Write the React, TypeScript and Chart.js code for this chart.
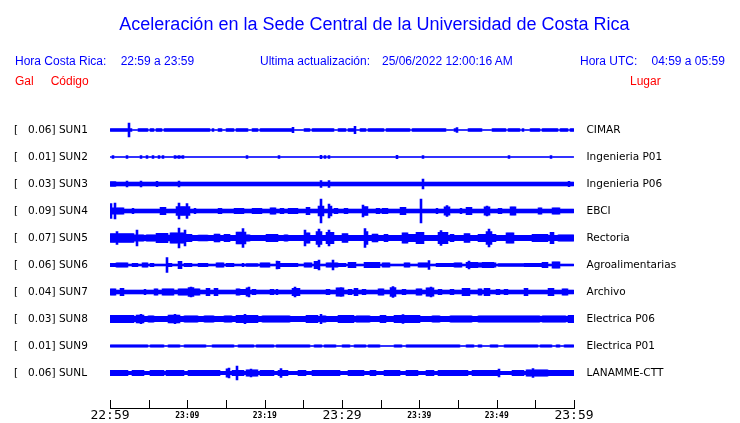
import React, { useEffect, useRef } from 'react';
import { Chart, registerables } from 'chart.js';

Chart.register(...registerables);

// ---------- text ----------
const TITLE = 'Aceleración en la Sede Central de la Universidad de Costa Rica';
const HORA_CR_LABEL = 'Hora Costa Rica:';
const HORA_CR_RANGE = '22:59 a 23:59';
const UPDATE_LABEL = 'Ultima actualización:';
const UPDATE_VALUE = '25/06/2022 12:00:16 AM';
const HORA_UTC_LABEL = 'Hora UTC:';
const HORA_UTC_RANGE = '04:59 a 05:59';
const COL_GAL = 'Gal';
const COL_CODE = 'Código';
const COL_PLACE = 'Lugar';

// ---------- stations ----------
const STATION_CODES = ['SUN1', 'SUN2', 'SUN3', 'SUN4', 'SUN5', 'SUN6', 'SUN7', 'SUN8', 'SUN9', 'SUNL'];
const PEAK_GAL = ['0.06', '0.01', '0.03', '0.09', '0.07', '0.06', '0.04', '0.03', '0.01', '0.06'];
const PLACES = ['CIMAR', 'Ingenieria P01', 'Ingenieria P06', 'EBCI', 'Rectoria', 'Agroalimentarias', 'Archivo', 'Electrica P06', 'Electrica P01', 'LANAMME-CTT'];

// ---------- time axis (minutes after 22:59) ----------
const TICK_MINUTES = [0, 5, 10, 15, 20, 25, 30, 35, 40, 45, 50, 55, 60];
const LABEL_MINUTES = [0, 10, 20, 30, 40, 50, 60];
const TIME_LABELS = ['22:59', '23:09', '23:19', '23:29', '23:39', '23:49', '23:59'];
const MAJOR_MINUTES = [0, 30, 60];

// trace offset (display counts per trace) and amplitudes in the same counts
const TRACE_OFFSET = 27;
const NOISE_FLOOR = [0.5, 0.5, 2.0, 2.0, 2.6, 1.0, 2.0, 2.6, 0.5, 1.7];

// bursts: [startMin, endMin, halfAmplitude]; spikes: [minute, halfAmplitude]
const SUN1_BURSTS = [[0, 2.8, 1.5], [3.8, 4.0, 1.4], [4.3, 4.8, 1.4], [5.3, 5.5, 1.4], [6.0, 6.7, 1.4], [7.1, 11.2, 1.4], [11.6, 12.3, 1.4], [12.5, 12.7, 1.4], [13.2, 13.4, 1.4], [14.1, 14.3, 1.4], [15.1, 15.9, 1.4], [16.5, 17.6, 1.4], [18.5, 18.9, 1.4], [19.6, 20.2, 1.4], [20.6, 21.5, 1.4], [21.9, 23.7, 1.4], [25.2, 25.8, 1.4], [26.2, 28.8, 1.4], [29.7, 30.5, 1.4], [31.0, 31.6, 1.4], [32.5, 33.1, 1.4], [33.5, 35.2, 1.4], [35.9, 38.7, 1.4], [39.1, 43.2, 1.4], [44.5, 44.9, 1.4], [46.5, 48.1, 1.4], [49.4, 51.0, 1.4], [51.6, 52.9, 1.4], [53.3, 53.5, 1.4], [54.5, 55.5, 1.4], [55.9, 57.8, 1.4], [58.3, 59.1, 1.4], [59.6, 59.8, 1.4]];
const SUN1_SPIKES = [[2.5, 7], [23.7, 2.7], [31.8, 3.7], [44.9, 2.5]];

const SUN2_BURSTS = [[8.4, 9.4, 0.9]];
const SUN2_SPIKES = [[0.3, 1.4], [2.3, 1.4], [4.1, 1.4], [4.7, 1.4], [5.6, 1.4], [6.4, 1.4], [6.8, 1.4], [8.4, 1.4], [8.9, 1.4], [9.4, 1.4], [17.6, 1.4], [21.9, 1.4], [27.2, 1.8], [27.8, 1.4], [28.3, 1.4], [37.0, 1.8], [40.6, 1.4], [51.6, 1.4], [56.9, 1.4]];

const SUN3_BURSTS = [[0, 0.6, 2.4]];
const SUN3_SPIKES = [[2.3, 3], [3.9, 3], [6.2, 2.8], [9.0, 3], [27.2, 3.5], [28.4, 3.5], [40.4, 5], [59.4, 2.8]];

const SUN4_BURSTS = [[0, 1.7, 3.2], [2.9, 3.1, 2.8], [6.7, 7.1, 3.8], [8.7, 9.5, 4.5], [9.7, 10.3, 4.5], [10.9, 11.1, 2.8], [14.1, 14.3, 2.8], [16.1, 17.2, 2.8], [18.5, 19.4, 2.8], [20.9, 21.3, 3.2], [22.1, 22.3, 2.8], [23.2, 24.1, 2.8], [25.4, 25.8, 3.6], [26.9, 27.6, 5], [28.2, 28.6, 5], [29.2, 29.4, 2.8], [30.3, 30.6, 2.8], [32.6, 33.2, 4.5], [34.5, 34.7, 2.8], [35.2, 35.9, 2.8], [37.6, 38.1, 3.6], [42.2, 42.4, 2.8], [43.4, 43.9, 4.2], [45.3, 45.5, 2.8], [46.2, 46.7, 3.6], [48.4, 49.0, 4.2], [50.4, 50.6, 2.8], [51.8, 52.3, 4.2], [55.5, 55.7, 3.2], [57.4, 58.1, 3.2]];
const SUN4_SPIKES = [[0.05, 7.5], [0.6, 8], [8.9, 8], [10.0, 7.5], [27.2, 12], [28.4, 7], [32.8, 6], [40.3, 12], [43.6, 5.5], [48.7, 5]];

const SUN5_BURSTS = [[0, 3.1, 4.5], [3.1, 4.3, 3.3], [4.7, 6.0, 3.3], [6.0, 7.3, 4.8], [7.3, 7.7, 3], [7.9, 9.6, 5.2], [10.0, 10.4, 3.8], [11.6, 12.5, 3], [13.5, 14.1, 4], [15.0, 15.4, 3.6], [16.3, 17.4, 6], [17.6, 18.0, 3.3], [20.2, 21.5, 3.6], [22.6, 22.9, 3.3], [25.2, 25.8, 5.2], [26.7, 27.3, 6.5], [28.0, 28.8, 5.6], [30.1, 30.6, 4.5], [32.9, 33.3, 6.5], [34.0, 34.6, 4], [35.6, 35.8, 3.6], [37.8, 38.3, 5.2], [38.7, 39.6, 3.6], [39.7, 40.6, 5.6], [42.6, 43.6, 5.6], [44.0, 44.3, 3.6], [45.8, 46.5, 4.5], [47.7, 49.7, 3.6], [48.8, 49.3, 6.5], [51.4, 52.0, 5.2], [54.6, 56.4, 3.6], [57.0, 57.4, 5.6], [58.1, 60, 3.3]];
const SUN5_SPIKES = [[1.0, 6.5], [3.4, 8], [8.9, 10], [9.7, 8], [17.2, 9.5], [25.3, 8], [27.1, 9], [28.4, 8], [33.1, 9.5], [42.9, 7.5], [49.1, 9]];

const SUN6_BURSTS = [[0, 0.6, 1.8], [1.0, 2.2, 2.2], [3.0, 3.5, 1.8], [4.3, 4.8, 2.2], [5.4, 5.6, 1.8], [7.7, 7.9, 1.8], [8.9, 9.1, 3.8], [9.6, 10.4, 1.8], [11.6, 12.5, 1.8], [13.8, 14.6, 2.2], [15.1, 15.9, 1.8], [17.1, 17.3, 1.8], [17.6, 18.9, 1.4], [19.6, 20.6, 2.2], [21.6, 21.8, 3.8], [21.9, 24.1, 1.8], [25.2, 26.0, 2.2], [26.5, 27.1, 3.8], [28.1, 29.3, 2.2], [29.7, 30.5, 1.8], [31.0, 31.6, 2.8], [33.1, 34.8, 2.8], [35.2, 36.0, 2.2], [38.1, 38.7, 2.2], [40.0, 41.3, 2.2], [42.2, 44.3, 1.8], [44.7, 45.3, 2.2], [46.2, 47.5, 2.8], [47.7, 49.9, 2.2], [48.3, 49.4, 2.8], [50.3, 53.3, 1.4], [53.6, 56.2, 1.8], [55.9, 56.4, 2.8], [57.2, 58.1, 3.2]];
const SUN6_SPIKES = [[7.5, 7.5], [21.7, 4], [26.9, 5], [28.8, 5], [41.2, 4.5], [46.4, 4]];

const SUN7_BURSTS = [[0, 0.6, 3.3], [1.3, 1.7, 3.8], [4.4, 4.6, 2.8], [5.8, 6.2, 3.3], [6.9, 8.2, 3.3], [9.0, 11.6, 3.2], [10.2, 10.8, 4.5], [12.5, 12.9, 3.8], [13.6, 13.8, 3.8], [16.3, 16.8, 3.3], [16.8, 17.6, 2.8], [17.8, 18.0, 4.2], [18.6, 18.8, 2.8], [20.8, 21.0, 2.8], [21.5, 21.7, 2.8], [23.7, 24.5, 3.8], [28.1, 28.3, 2.8], [29.4, 30.1, 4.2], [31.0, 31.2, 2.8], [31.7, 32.0, 3.8], [32.7, 32.9, 2.8], [34.8, 35.2, 3.3], [36.3, 36.8, 4.5], [38.0, 38.2, 2.8], [39.6, 40.2, 3.3], [41.0, 41.7, 4.2], [42.5, 42.7, 2.8], [44.2, 44.4, 2.8], [45.6, 46.5, 3.8], [47.7, 48.1, 3.3], [48.6, 49.0, 3.8], [50.0, 50.3, 2.8], [51.0, 51.3, 2.8], [53.7, 53.9, 3.8], [56.8, 57.2, 3.8], [58.7, 59.1, 3.3]];
const SUN7_SPIKES = [[10.6, 5], [17.9, 5], [23.8, 5], [29.8, 4.5], [36.6, 5.5], [41.4, 5]];

const SUN8_BURSTS = [[0, 3.0, 3.6], [3.4, 4.3, 4], [5.0, 5.6, 3.3], [7.7, 9.0, 4], [9.6, 11.2, 3.3], [12.4, 13.3, 3.3], [14.9, 15.7, 3.3], [16.3, 19.0, 3.8], [19.8, 23.2, 3.2], [25.6, 26.7, 3.6], [27.6, 27.8, 3.3], [29.7, 31.4, 3.6], [32.0, 33.6, 3.3], [35.1, 35.6, 3.6], [36.8, 40.0, 3.6], [41.7, 42.6, 3.3], [44.2, 46.7, 3.3], [47.7, 52.0, 3.2], [52.5, 55.5, 3.2], [55.9, 58.9, 3.2], [59.3, 60, 3.6]];
const SUN8_SPIKES = [[3.9, 4.8], [8.5, 4.8], [17.5, 4.8], [27.2, 4.8], [38.0, 4.5]];

const SUN9_BURSTS = [[0, 4.7, 1.3], [5.3, 6.9, 1.3], [7.7, 9.0, 1.3], [9.6, 12.2, 1.3], [13.3, 15.9, 1.3], [16.8, 18.5, 1.3], [18.9, 21.0, 1.3], [21.5, 25.8, 1.3], [26.6, 27.2, 1.3], [27.9, 29.2, 1.3], [30.1, 30.9, 1.3], [31.7, 33.0, 1.3], [33.4, 34.7, 1.3], [36.8, 37.6, 1.3], [38.4, 41.4, 1.3], [41.8, 44.0, 1.3], [44.4, 45.2, 1.3], [46.1, 46.9, 1.3], [47.7, 48.1, 1.3], [49.2, 50.0, 1.3], [51.0, 53.6, 1.3], [54.0, 55.3, 1.3], [55.7, 57.0, 1.3], [57.7, 58.1, 1.3], [58.8, 60, 1.3]];
const SUN9_SPIKES = [];

const SUNL_BURSTS = [[0, 2.2, 2.8], [3.1, 4.3, 2.6], [5.2, 6.9, 2.8], [7.3, 9.4, 2.8], [10.2, 11.9, 2.8], [12.3, 14.1, 2.8], [15.1, 15.5, 4.2], [15.9, 17.2, 2.8], [17.6, 19.0, 3.2], [19.4, 21.1, 2.8], [21.9, 22.8, 2.8], [24.4, 25.2, 2.8], [26.2, 29.7, 2.8], [30.9, 32.6, 2.8], [33.7, 34.2, 2.8], [35.5, 37.5, 2.8], [38.3, 39.6, 2.8], [40.9, 41.7, 2.8], [42.6, 44.3, 2.8], [44.7, 46.1, 2.8], [47.0, 50.3, 2.8], [52.0, 53.3, 2.8], [53.9, 56.4, 3.2], [56.4, 60, 2.8]];
const SUNL_SPIKES = [[15.3, 5], [16.4, 7], [18.3, 4], [22.2, 4.5], [50.3, 4], [54.6, 4.5]];

const TRACE_BURSTS = [SUN1_BURSTS, SUN2_BURSTS, SUN3_BURSTS, SUN4_BURSTS, SUN5_BURSTS, SUN6_BURSTS, SUN7_BURSTS, SUN8_BURSTS, SUN9_BURSTS, SUNL_BURSTS];
const TRACE_SPIKES = [SUN1_SPIKES, SUN2_SPIKES, SUN3_SPIKES, SUN4_SPIKES, SUN5_SPIKES, SUN6_SPIKES, SUN7_SPIKES, SUN8_SPIKES, SUN9_SPIKES, SUNL_SPIKES];

const T_MIN = 0;
const T_MAX = 60;
const BIN_COUNT = 232; // envelope samples per trace

// envelope (half amplitude) per time bin, table built from floor / bursts / spikes
function buildEnvelope(floor: number, bursts: number[][], spikes: number[][]) {
  const bin = (T_MAX - T_MIN) / BIN_COUNT;
  const out: number[][] = [];
  for (let k = 0; k < BIN_COUNT; k++) {
    const a0 = T_MIN + k * bin;
    const a1 = a0 + bin;
    let amp = floor;
    bursts.forEach(([s, e, v]) => { if (s < a1 && e > a0 && v > amp) amp = v; });
    spikes.forEach(([t, v]) => { if (t >= a0 && t < a1 && v > amp) amp = v; });
    out.push([a0 + bin / 2, amp]);
  }
  return out;
}

const TRACE_COLOR = '#0000ff';

const tickMarksPlugin = {
  id: 'upTicks',
  afterDraw(chart: any) {
    const xs = chart.scales.x;
    const ctx = chart.ctx;
    ctx.save();
    ctx.strokeStyle = '#000';
    ctx.lineWidth = 1;
    ctx.beginPath();
    xs.ticks.forEach((t: any) => {
      const px = Math.round(xs.getPixelForValue(t.value)) + 0.5;
      ctx.moveTo(px, xs.top + 1);
      ctx.lineTo(px, xs.top - 8);
    });
    ctx.stroke();
    ctx.restore();
  },
};

export default function App() {
  const ref = useRef<HTMLCanvasElement | null>(null);

  useEffect(() => {
    if (!ref.current) return;
    const datasets: any[] = STATION_CODES.map((code, i) => {
      const env = buildEnvelope(NOISE_FLOOR[i], TRACE_BURSTS[i], TRACE_SPIKES[i]);
      const center = i * TRACE_OFFSET;
      return {
        type: 'bar',
        label: code,
        data: env.map(([x, a]) => ({ x, y: [center - a, center + a] })),
        backgroundColor: TRACE_COLOR,
        borderWidth: 0,
        grouped: false,
        barPercentage: 1,
        categoryPercentage: 1,
        inflateAmount: 0.3,
      };
    });

    const yMin = -TRACE_OFFSET / 2;
    const yMax = (STATION_CODES.length - 1) * TRACE_OFFSET + 35;
    const rowTicks = (s: any) => { s.ticks = STATION_CODES.map((_, i) => ({ value: i * TRACE_OFFSET })); };
    const labelFont = { family: '"DejaVu Sans", sans-serif', size: 10.5, lineHeight: 1.2 };

    const chart = new Chart(ref.current, {
      type: 'bar',
      data: { datasets },
      plugins: [tickMarksPlugin],
      options: {
        animation: false,
        responsive: false,
        devicePixelRatio: 1,
        events: [],
        layout: { padding: { left: 14, top: 116.5, right: 0, bottom: 0 } },
        plugins: { legend: { display: false }, tooltip: { enabled: false }, title: { display: false } },
        scales: {
          x: {
            type: 'linear',
            min: T_MIN,
            max: T_MAX,
            offset: false,
            position: 'bottom',
            grid: { display: false, drawTicks: false, offset: false },
            border: { display: true, color: '#000', width: 1 },
            afterBuildTicks: (s: any) => { s.ticks = TICK_MINUTES.map((v) => ({ value: v })); },
            afterFit: (s: any) => { s.height = 15; },
            ticks: {
              autoSkip: false,
              maxRotation: 0,
              minRotation: 0,
              padding: 0,
              color: '#000',
              callback: (v: any) => {
                const k = LABEL_MINUTES.indexOf(Number(v));
                return k >= 0 ? TIME_LABELS[k] : '';
              },
              font: (c: any) => {
                const v = c.tick ? c.tick.value : 0;
                return MAJOR_MINUTES.includes(v)
                  ? { family: '"DejaVu Sans Mono", monospace', size: 13, lineHeight: 1.2 }
                  : { family: '"DejaVu Sans Mono", monospace', size: 8, weight: 'bold', lineHeight: 1.875 };
              },
            },
          },
          y: {
            type: 'linear',
            reverse: true,
            min: yMin,
            max: yMax,
            position: 'left',
            grid: { display: false, drawTicks: false },
            border: { display: false },
            afterBuildTicks: rowTicks,
            afterFit: (s: any) => { s.width = 96; s.paddingTop = 0; s.paddingBottom = 0; },
            ticks: {
              crossAlign: 'far',
              padding: 0,
              color: '#000',
              font: labelFont,
              callback: (_v: any, i: number) => '[   ' + PEAK_GAL[i] + '] ' + STATION_CODES[i],
            },
          },
          y2: {
            type: 'linear',
            reverse: true,
            min: yMin,
            max: yMax,
            position: 'right',
            grid: { display: false, drawTicks: false },
            border: { display: false },
            afterBuildTicks: rowTicks,
            afterFit: (s: any) => { s.width = 166; s.paddingTop = 0; s.paddingBottom = 0; },
            ticks: {
              crossAlign: 'near',
              padding: 12.5,
              color: '#000',
              font: labelFont,
              callback: (_v: any, i: number) => PLACES[i],
            },
          },
        },
      } as any,
    } as any);
    return () => chart.destroy();
  }, []);

  const txt: React.CSSProperties = {
    position: 'absolute',
    fontFamily: '"Liberation Sans", Arial, sans-serif',
    fontSize: 12,
    lineHeight: 1,
    whiteSpace: 'pre',
    margin: 0,
  };

  return (
    <div style={{ position: 'absolute', left: 0, top: 0, width: 740, height: 423, background: '#fff', overflow: 'hidden' }}>
      <canvas ref={ref} width={740} height={423} style={{ position: 'absolute', left: 0, top: 0, display: 'block' }} />
      <div style={{ ...txt, top: 14.8, left: 0, width: 749, textAlign: 'center', fontSize: 18, color: '#0000ff' }}>{TITLE}</div>
      <div style={{ ...txt, top: 55.3, left: 15, color: '#0000ff' }}>{HORA_CR_LABEL}</div>
      <div style={{ ...txt, top: 55.3, left: 120.7, color: '#0000ff' }}>{HORA_CR_RANGE}</div>
      <div style={{ ...txt, top: 55.3, left: 260, color: '#0000ff' }}>{UPDATE_LABEL}</div>
      <div style={{ ...txt, top: 55.3, left: 382, color: '#0000ff' }}>{UPDATE_VALUE}</div>
      <div style={{ ...txt, top: 55.3, left: 580, color: '#0000ff' }}>{HORA_UTC_LABEL}</div>
      <div style={{ ...txt, top: 55.3, left: 651.5, color: '#0000ff' }}>{HORA_UTC_RANGE}</div>
      <div style={{ ...txt, top: 75.1, left: 15, color: '#ff0000' }}>{COL_GAL}</div>
      <div style={{ ...txt, top: 75.1, left: 50.7, color: '#ff0000' }}>{COL_CODE}</div>
      <div style={{ ...txt, top: 75.1, left: 630, color: '#ff0000' }}>{COL_PLACE}</div>
    </div>
  );
}
